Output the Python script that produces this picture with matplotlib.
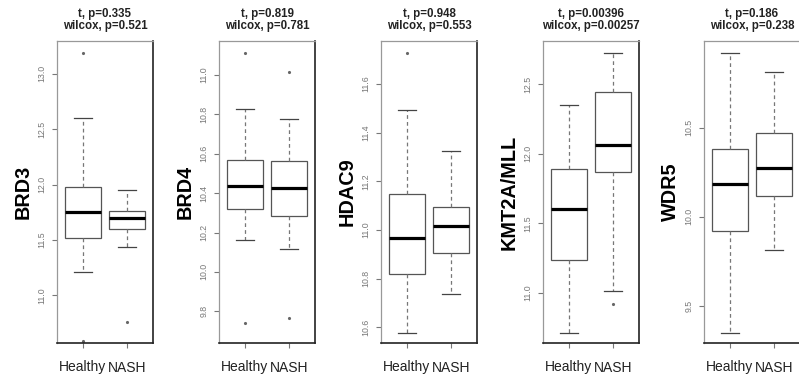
import matplotlib
matplotlib.use('Agg')
import matplotlib.pyplot as plt

plt.rcParams['font.family'] = ['Liberation Sans', 'DejaVu Sans']

# data
genes = ['BRD3', 'BRD4', 'HDAC9', 'KMT2A/MLL', 'WDR5']
groups = ['Healthy', 'NASH']
t_p = ['0.335', '0.819', '0.948', '0.00396', '0.186']
wilcox_p = ['0.521', '0.781', '0.553', '0.00257', '0.238']

# (whisker low, q1, median, q3, whisker high)
healthy_box = [
    (11.21, 11.52, 11.75, 11.98, 12.60),
    (10.161, 10.32, 10.439, 10.571, 10.83),
    (10.578, 10.821, 10.968, 11.149, 11.494),
    (10.713, 11.234, 11.602, 11.892, 12.355),
    (9.348, 9.920, 10.185, 10.379, 10.924),
]
nash_box = [
    (11.44, 11.60, 11.70, 11.76, 11.95),
    (10.116, 10.285, 10.427, 10.561, 10.779),
    (10.737, 10.907, 11.016, 11.096, 11.326),
    (11.013, 11.873, 12.065, 12.444, 12.729),
    (9.815, 10.118, 10.272, 10.472, 10.817),
]
healthy_out = [[13.19, 10.59], [11.112, 9.742], [11.728], [], []]
nash_out = [[10.76], [11.016, 9.766], [], [10.920], []]

y_limits = [(10.57, 13.295), (9.639, 11.173), (10.536, 11.777),
            (10.639, 12.812), (9.290, 10.989)]
y_ticks = [
    [11.0, 11.5, 12.0, 12.5, 13.0],
    [9.8, 10.0, 10.2, 10.4, 10.6, 10.8, 11.0],
    [10.6, 10.8, 11.0, 11.2, 11.4, 11.6],
    [11.0, 11.5, 12.0, 12.5],
    [9.5, 10.0, 10.5],
]


def make_stats(box, out):
    lo, q1, med, q3, hi = box
    return {'whislo': lo, 'q1': q1, 'med': med, 'q3': q3, 'whishi': hi,
            'fliers': out}


W, H = 799, 383
fig = plt.figure(figsize=(W / 100, H / 100), dpi=100)

lefts = [57, 219, 381, 543, 704]
ax_w = 96
ax_top, ax_bot = 41, 343

for i, gene in enumerate(genes):
    ax = fig.add_axes([lefts[i] / W, (H - ax_bot) / H, ax_w / W,
                       (ax_bot - ax_top) / H])
    stats = [make_stats(healthy_box[i], healthy_out[i]),
             make_stats(nash_box[i], nash_out[i])]
    ax.bxp(stats, positions=[1, 2], widths=0.8, capwidths=0.4,
           patch_artist=True,
           boxprops=dict(facecolor='white', edgecolor='#555555', linewidth=0.9),
           medianprops=dict(color='black', linewidth=2.3),
           whiskerprops=dict(color='#777777', linewidth=0.9,
                             linestyle=(0, (3, 2.5))),
           capprops=dict(color='#444444', linewidth=0.9),
           flierprops=dict(marker='.', markersize=2.5,
                           markerfacecolor='#666666',
                           markeredgecolor='#666666'))

    ax.set_xlim(0.42, 2.58)
    ax.set_ylim(*y_limits[i])
    ax.set_xticks([1, 2])
    ax.set_xticklabels(groups, fontsize=10, color='#222222')
    ax.set_yticks(y_ticks[i])
    ax.set_yticklabels(['%.1f' % v for v in y_ticks[i]], fontsize=6.3,
                       color='#777777', rotation=90, va='center')
    ax.tick_params(axis='y', length=3.6, width=0.8, color='#777777', pad=4)
    ax.tick_params(axis='x', length=3.6, width=0.8, color='#777777', pad=9)

    for side in ['left', 'top']:
        ax.spines[side].set_color('#999999')
        ax.spines[side].set_linewidth(0.9)
    for side in ['right', 'bottom']:
        ax.spines[side].set_color('#222222')
        ax.spines[side].set_linewidth(1.2)

    ax.text(0.5, 1 + 27 / 302, 't, p=' + t_p[i], transform=ax.transAxes,
            ha='center', va='center', fontsize=8.3, fontweight='bold',
            color='#222222')
    ax.text(0.5, 1 + 15 / 302, 'wilcox, p=' + wilcox_p[i],
            transform=ax.transAxes, ha='center', va='center', fontsize=8.3,
            fontweight='bold', color='#222222')
    ax.text(-0.354, 0.5, gene, transform=ax.transAxes, rotation=90,
            ha='center', va='center', fontsize=14.3, fontweight='bold',
            color='black')

fig.savefig('out.png', dpi=100)
